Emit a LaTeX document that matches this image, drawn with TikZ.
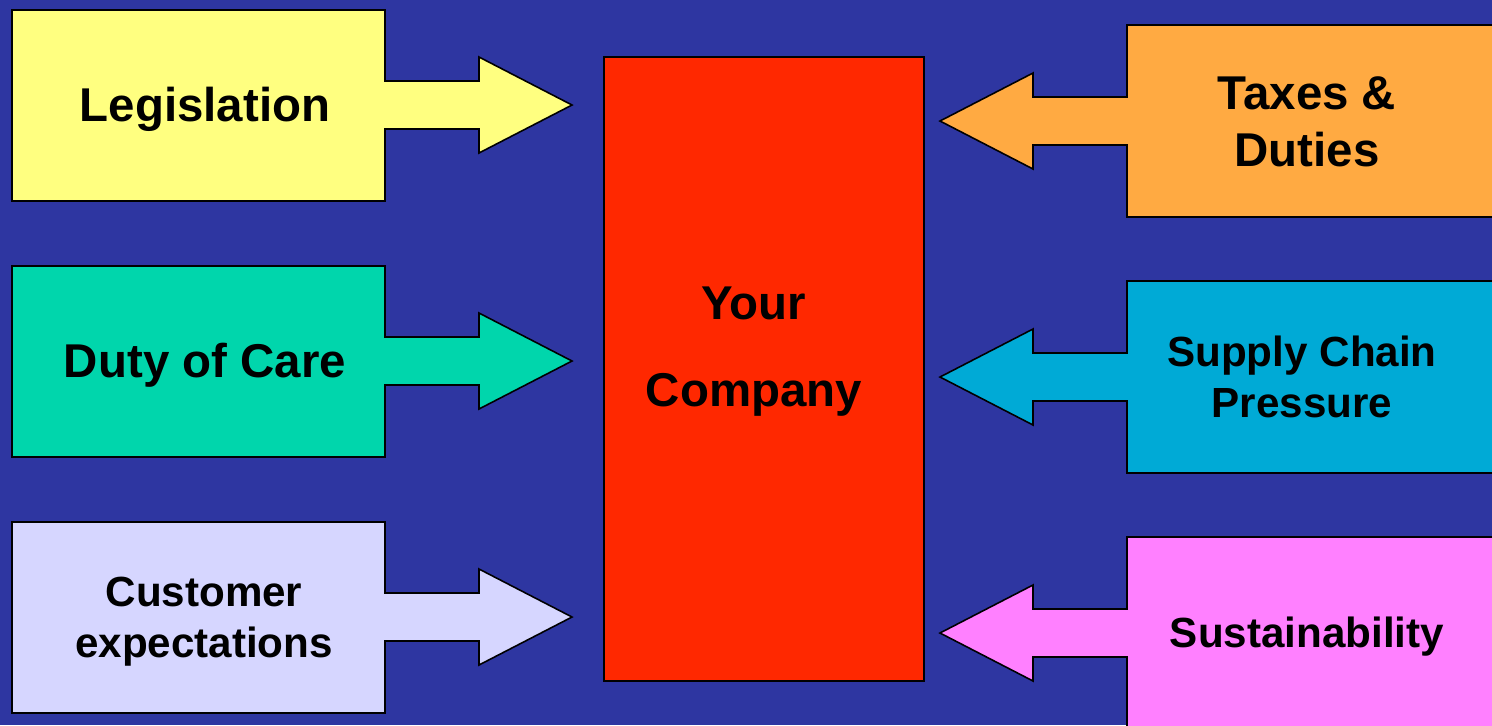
\documentclass[tikz,border=0pt]{standalone}
\usepackage{fontspec}
\setmainfont{Liberation Sans}

\definecolor{bgblue}{RGB}{46,54,161}
\definecolor{legyellow}{RGB}{255,255,128}
\definecolor{caregreen}{RGB}{0,214,172}
\definecolor{custlilac}{RGB}{214,214,255}
\definecolor{taxorange}{RGB}{255,170,66}
\definecolor{supplycyan}{RGB}{0,170,214}
\definecolor{sustpink}{RGB}{255,128,255}
\definecolor{compred}{RGB}{255,40,0}

\tikzset{
    callout/.style={draw=black, line width=0.9pt, line join=miter},
    bigtext/.style={font=\fontsize{27}{32.4}\selectfont\bfseries, align=center},
    smalltext/.style={font=\fontsize{24}{29}\selectfont\bfseries, align=center}
}

\begin{document}
\begin{tikzpicture}[x=0.02cm, y=-0.02cm]
    \clip (0,0) rectangle (1492,725);
    \fill[bgblue] (0,0) rectangle (1492,725);

    % left side, pointing in
    \filldraw[callout, fill=legyellow] (12,10) -- (385,10) -- (385,81) -- (479,81) -- (479,57) -- (572,105)
        -- (479,153) -- (479,129) -- (385,129) -- (385,201) -- (12,201) -- cycle;
    \filldraw[callout, fill=caregreen] (12,266) -- (385,266) -- (385,337) -- (479,337) -- (479,313) -- (572,361)
        -- (479,409) -- (479,385) -- (385,385) -- (385,457) -- (12,457) -- cycle;
    \filldraw[callout, fill=custlilac] (12,522) -- (385,522) -- (385,593) -- (479,593) -- (479,569) -- (572,617)
        -- (479,665) -- (479,641) -- (385,641) -- (385,713) -- (12,713) -- cycle;

    % right side, pointing in
    \filldraw[callout, fill=taxorange] (1510,25) -- (1127,25) -- (1127,97) -- (1033,97) -- (1033,73) -- (940,121)
        -- (1033,169) -- (1033,145) -- (1127,145) -- (1127,217) -- (1510,217) -- cycle;
    \filldraw[callout, fill=supplycyan] (1510,281) -- (1127,281) -- (1127,353) -- (1033,353) -- (1033,329) -- (940,377)
        -- (1033,425) -- (1033,401) -- (1127,401) -- (1127,473) -- (1510,473) -- cycle;
    \filldraw[callout, fill=sustpink] (1510,537) -- (1127,537) -- (1127,609) -- (1033,609) -- (1033,585) -- (940,633)
        -- (1033,681) -- (1033,657) -- (1127,657) -- (1127,740) -- (1510,740) -- cycle;

    \filldraw[callout, fill=compred] (604,57) rectangle (924,681);

    \node[bigtext] (leg) at (205,109) {Legislation};
    \node[bigtext] (care) at (205,365) {Duty of Care};
    \node[smalltext] (cust) at (204,622) {Customer\\expectations};
    \node[bigtext] (tax) at (1307,122) {Taxes \&\\Duties};
    \node[smalltext] (supply) at (1302,377) {Supply Chain\\Pressure};
    \node[smalltext] (sust) at (1307,637) {Sustainability};
    \node[bigtext, font=\fontsize{27}{49.5}\selectfont\bfseries] (comp) at (754,352) {Your\\Company};
\end{tikzpicture}
\end{document}
